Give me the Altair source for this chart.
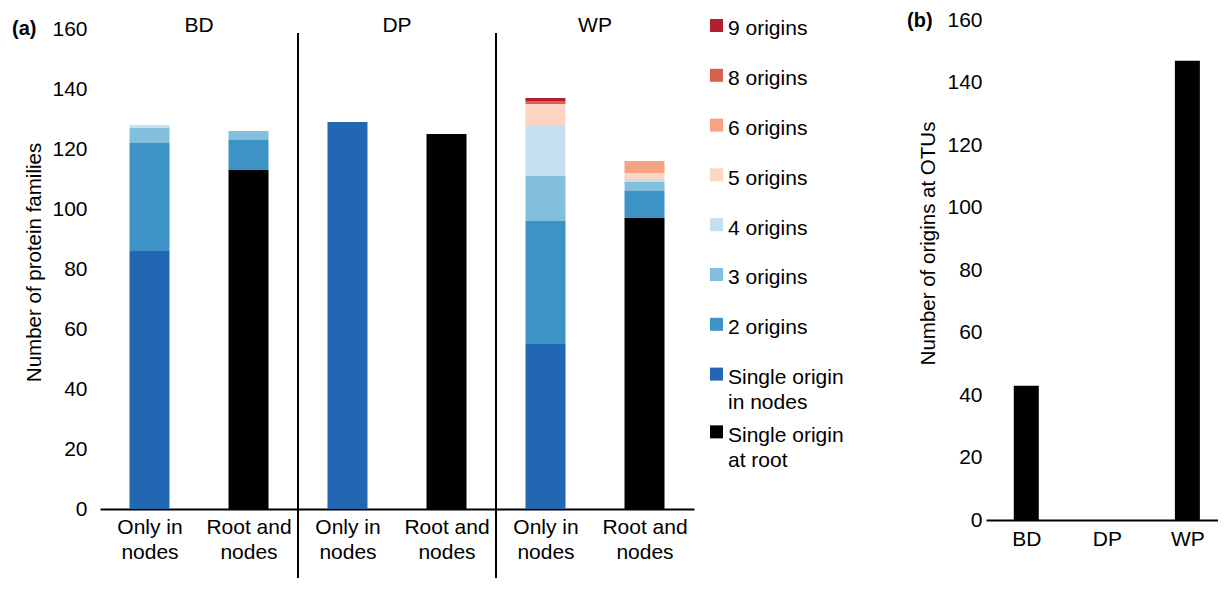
import altair as alt
import pandas as pd

FONT = "Liberation Sans"

# ---------------- data: panel (a) ----------------
groups = ["BD", "BD", "DP", "DP", "WP", "WP"]
bar_types = ["Only in nodes", "Root and nodes", "Only in nodes",
             "Root and nodes", "Only in nodes", "Root and nodes"]
tick_labels = ["Only in|nodes", "Root and|nodes", "Only in|nodes",
               "Root and|nodes", "Only in|nodes", "Root and|nodes"]

categories = ["Single origin at root", "Single origin in nodes", "2 origins",
              "3 origins", "4 origins", "5 origins", "6 origins",
              "8 origins", "9 origins"]
single_root = [0, 113, 0, 125, 0, 97]
single_nodes = [86, 0, 129, 0, 55, 0]
two_origins = [36, 10, 0, 0, 41, 9]
three_origins = [5, 3, 0, 0, 15, 3]
four_origins = [1, 0, 0, 0, 17, 1]
five_origins = [0, 0, 0, 0, 7, 2]
six_origins = [0, 0, 0, 0, 0, 4]
eight_origins = [0, 0, 0, 0, 1, 0]
nine_origins = [0, 0, 0, 0, 1, 0]
colors = ["#000000", "#2267b4", "#3d93c6", "#82bfdf", "#c6dfee",
          "#fdd5c2", "#f5a482", "#d9604f", "#b2202f"]

legend_order = ["9 origins", "8 origins", "6 origins", "5 origins",
                "4 origins", "3 origins", "2 origins",
                "Single origin in nodes", "Single origin at root"]
legend_text = ["9 origins", "8 origins", "6 origins", "5 origins",
               "4 origins", "3 origins", "2 origins",
               "Single origin\nin nodes", "Single origin\nat root"]

# ---------------- data: panel (b) ----------------
otu_sites = ["BD", "DP", "WP"]
otu_origins = [43, 0, 147]

# ---------------- tables ----------------
series = [single_root, single_nodes, two_origins, three_origins, four_origins,
          five_origins, six_origins, eight_origins, nine_origins]
rows = []
for ci, (cat, vals) in enumerate(zip(categories, series)):
    for i, v in enumerate(vals):
        if v > 0:
            rows.append({"pos": i + 0.5, "group": groups[i], "type": bar_types[i],
                         "category": cat, "value": v, "ord": ci})
df = pd.DataFrame(rows)

seps = pd.DataFrame({"sep": [i for i in range(1, len(groups)) if groups[i] != groups[i - 1]]})
hdr = []
for g in dict.fromkeys(groups):
    idx = [i + 0.5 for i, gg in enumerate(groups) if gg == g]
    hdr.append({"group": g, "center": sum(idx) / len(idx)})
hdr = pd.DataFrame(hdr)

label_js = "[" + ",".join("'" + t + "'" for t in tick_labels) + "]"
site_js = "[" + ",".join("'" + t + "'" for t in otu_sites) + "]"
color_scale = alt.Scale(domain=categories, range=colors)

LBL = 21
TTL = 20.5

# ---------------- panel (a) ----------------
bars = alt.Chart(df).mark_bar(size=40).encode(
    x=alt.X("pos:Q", scale=alt.Scale(domain=[0, len(groups)], nice=False, zero=False, padding=0),
            axis=alt.Axis(values=[i + 0.5 for i in range(len(groups))],
                          labelExpr="split(" + label_js + "[floor(datum.value)], '|')",
                          title=None, ticks=False, grid=False, domainColor="#000",
                          domainWidth=2, labelFontSize=LBL, labelLineHeight=25,
                          labelPadding=7, labelFlush=False, labelOverlap=False,
                          labelColor="#000")),
    y=alt.Y("value:Q", stack="zero", scale=alt.Scale(domain=[0, 163], nice=False),
            axis=alt.Axis(values=list(range(0, 161, 20)), title="Number of protein families",
                          ticks=False, grid=False, domain=False, labelFontSize=LBL,
                          labelPadding=13, labelColor="#000", titleFontSize=TTL,
                          titleFontWeight="normal", titleColor="#000",
                          titleX=-66, titleY=242, titleAngle=270,
                          titleAlign="center", titleBaseline="middle")),
    color=alt.Color("category:N", scale=color_scale, legend=None),
    order=alt.Order("ord:Q"),
)
rules = alt.Chart(seps).mark_rule(color="#000", strokeWidth=2).encode(
    x="sep:Q", y=alt.value(13), y2=alt.value(558))
headers = alt.Chart(hdr).mark_text(fontSize=LBL, color="#000", baseline="middle").encode(
    x="center:Q", y=alt.value(6), text="group:N")
tag_a = alt.Chart(pd.DataFrame({"t": ["(a)"]})).mark_text(
    fontSize=20, fontWeight="bold", color="#000", align="left", baseline="middle").encode(
    x=alt.value(-88), y=alt.value(9), text="t:N")
panel_a = alt.layer(bars, rules, headers, tag_a).properties(width=594, height=489)

# ---------------- legend ----------------
leg_rows = []
extra = 0
for i, (cat, txt) in enumerate(zip(legend_order, legend_text)):
    leg_rows.append({"category": cat, "label": txt, "ypos": i + 0.16 * extra})
    extra += txt.count("\n")
leg = pd.DataFrame(leg_rows)
ly = alt.Y("ypos:Q", scale=alt.Scale(domain=[-0.1104, 9.93], reverse=True, nice=False, zero=False), axis=None)
leg_sq = alt.Chart(leg).mark_square(size=169, opacity=1).encode(
    x=alt.value(6.5), y=ly, color=alt.Color("category:N", scale=color_scale, legend=None))
leg_tx = alt.Chart(leg).mark_text(align="left", baseline="alphabetic", dy=10, fontSize=LBL,
                                  lineHeight=25, lineBreak="\n", color="#000").encode(
    x=alt.value(18), y=ly, text="label:N")
legend = alt.layer(leg_sq, leg_tx).properties(width=260, height=500)

# ---------------- panel (b) ----------------
dfb = pd.DataFrame({"site": otu_sites, "idx": list(range(len(otu_sites))), "origins": otu_origins})
bars_b = alt.Chart(dfb).mark_bar(color="#000", size=25).encode(
    x=alt.X("idx:Q", scale=alt.Scale(domain=[-0.5, 2.38], nice=False, zero=False, padding=0),
            axis=alt.Axis(values=list(range(len(otu_sites))),
                          labelExpr=site_js + "[round(datum.value)]",
                          title=None, labelAngle=0, ticks=False, grid=False, domainColor="#000",
                          domainWidth=2, labelFontSize=LBL, labelPadding=8, labelColor="#000",
                          labelFlush=False, labelOverlap=False)),
    y=alt.Y("origins:Q", scale=alt.Scale(domain=[0, 160], nice=False),
            axis=alt.Axis(values=list(range(0, 161, 20)), title="Number of origins at OTUs",
                          ticks=False, grid=False, domain=False, labelFontSize=LBL,
                          labelPadding=4, labelColor="#000", titleFontSize=TTL,
                          titleFontWeight="normal", titleColor="#000",
                          titleX=-58, titleY=223, titleAngle=270,
                          titleAlign="center", titleBaseline="middle")),
)
tag_b = alt.Chart(pd.DataFrame({"t": ["(b)"]})).mark_text(
    fontSize=20, fontWeight="bold", color="#000", align="left", baseline="middle").encode(
    x=alt.value(-79), y=alt.value(1), text="t:N")
panel_b = alt.layer(bars_b, tag_b).properties(width=232, height=500)

chart = alt.hconcat(panel_a, legend, panel_b, spacing=16, bounds="flush",
                    padding={"left": 4, "top": 1, "right": 0, "bottom": 0}
                    ).configure(font=FONT).configure_view(stroke=None)

chart.save("out.html", embed_options={"renderer": "svg", "actions": False})
